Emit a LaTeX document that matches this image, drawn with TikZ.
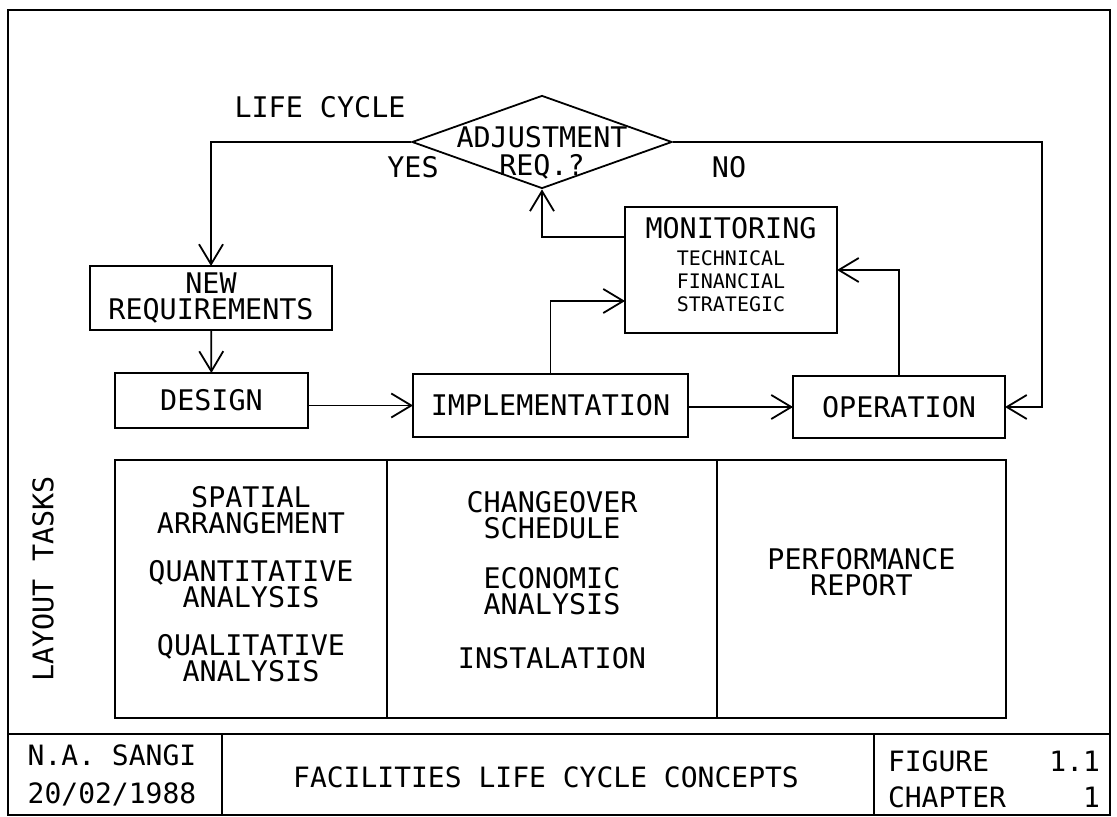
\documentclass[tikz,border=0pt]{standalone}
\usepackage{fontspec}
\setmainfont{DejaVu Sans Mono}
\usetikzlibrary{shapes.geometric,arrows.meta,positioning}
\newcommand{\plotfont}{\fontsize{14.2}{13}\selectfont}
\newcommand{\plotsmall}{\fontsize{10}{11.3}\selectfont}
\newcommand{\plottitle}{\fontsize{14}{14}\selectfont}

\begin{document}
\begin{tikzpicture}[
  x=0.5pt, y=-0.5pt,
  line width=0.9pt,
  box/.style={
    rectangle, draw, inner sep=0pt, outer sep=0pt,
    align=center, font=\plotfont
  },
  decision/.style={
    diamond, draw, inner sep=0pt,
    minimum width=130pt, minimum height=46.5pt
  },
  taskbox/.style={
    rectangle, draw, inner sep=0pt, outer sep=0pt,
    minimum height=129pt, align=center, font=\plotfont
  },
  arr/.style={-{Straight Barb[length=10pt,width=12pt]}},
  lbl/.style={font=\plotfont, inner sep=0pt, align=center},
  tlbl/.style={font=\plottitle, inner sep=0pt}
]
\useasboundingbox (0,0) rectangle (1117,817);

% frame and title block
\draw (8,10) rectangle (1110,815);
\draw (8,734) -- (1110,734);
\draw (222,734) -- (222,815);
\draw (874,734) -- (874,815);

\node[tlbl] (author) at (112,755) {N.A. SANGI};
\node[tlbl] (date) at (112,794) {20/02/1988};
\node[tlbl] (title) at (546,777) {FACILITIES LIFE CYCLE CONCEPTS};
\node[tlbl, text width=106pt, align=left] (figno) at (994,761) {FIGURE\hfill 1.1};
\node[tlbl, text width=106pt, align=left] (chapno) at (994,797) {CHAPTER\hfill 1};

% life cycle
\node[decision] (adjust) at (542,142) {};
\node[lbl, font=\fontsize{14.2}{14}\selectfont] (adjtext) at ([yshift=-5.5pt]adjust.center)
  {ADJUSTMENT\\REQ.?};

\node[lbl] (lifecycle) at (320,107) {LIFE CYCLE};
\node[lbl] (yes) at (413,167) {YES};
\node[lbl] (no) at (729,167) {NO};

\node[box, minimum width=121pt, minimum height=32pt] (newreq) at (211,298)
  {NEW\\REQUIREMENTS};
\node[box, minimum width=96.5pt, minimum height=27.5pt] (design) at (211.5,400.5)
  {DESIGN};
\node[box, minimum width=137.5pt, minimum height=31.5pt] (impl) at (550.5,405.5)
  {IMPLEMENTATION};
\node[box, minimum width=106pt, minimum height=31pt] (oper) at (899,407)
  {OPERATION};
\node[box, minimum width=106pt, minimum height=63pt, text depth=5.6pt,
  font=\fontsize{14.2}{11.3}\selectfont] (monitor) at (731,270)
  {MONITORING\\[2.2pt]{\plotsmall TECHNICAL}\\{\plotsmall FINANCIAL}\\{\plotsmall STRATEGIC}};

\coordinate (noturn) at (1042,142);

\draw[arr] (adjust.west) -| (newreq.north);
\draw[arr] (newreq) -- (design);
\draw[arr] (design.east |- impl) -- (impl.west);
\draw[arr] (impl.east |- oper) -- (oper.west);
\draw[arr] (impl.north) |- ([yshift=-15.5pt]monitor.west);
\draw[arr] (oper.north) |- (monitor.east);
\draw[arr] ([yshift=16.5pt]monitor.west) -| (adjust.south);
\draw[arr] (adjust.east) -- (noturn) |- (oper.east);

% layout tasks
\node[lbl, rotate=90] (layout) at (43,579) {LAYOUT TASKS};

\node[taskbox, minimum width=136pt, text depth=5pt] (spatial) at (251,589)
  {SPATIAL\\ARRANGEMENT\\[11pt]QUANTITATIVE\\ANALYSIS\\[11pt]QUALITATIVE\\ANALYSIS};
\node[taskbox, minimum width=165pt, text depth=9pt, right=0pt of spatial] (changeover)
  {CHANGEOVER\\SCHEDULE\\[12pt]ECONOMIC\\ANALYSIS\\[14pt]INSTALATION};
\node[taskbox, minimum width=144.5pt, text depth=17pt, right=0pt of changeover] (perform)
  {PERFORMANCE\\REPORT};

\end{tikzpicture}
\end{document}
